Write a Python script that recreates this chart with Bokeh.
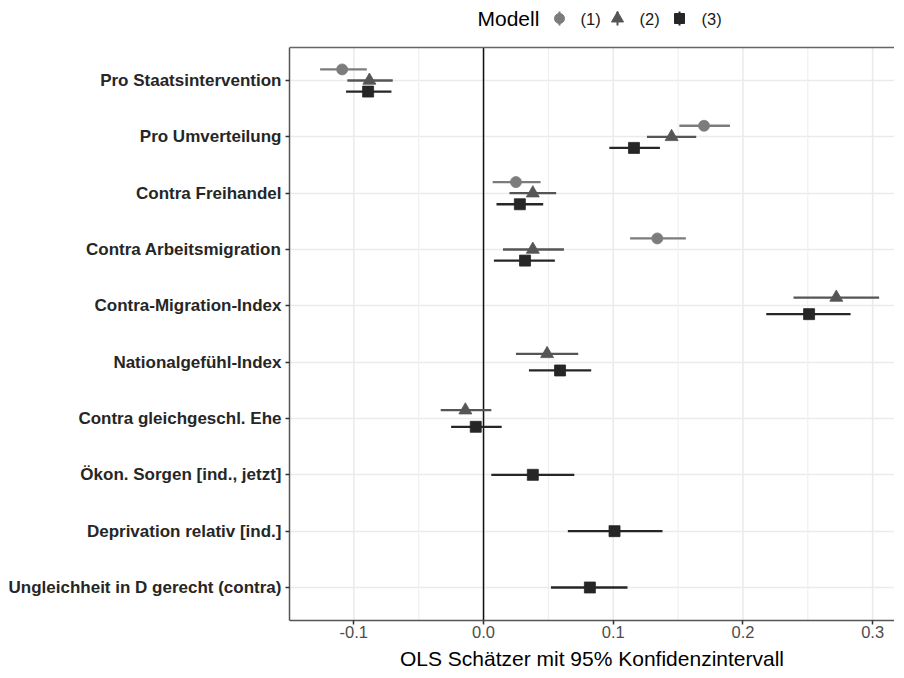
import math
from bokeh.plotting import figure
from bokeh.models import Range1d, FixedTicker, ColumnDataSource
from bokeh.embed import file_html
from bokeh.resources import INLINE
from bokeh.core.properties import value

nan = float("nan")

# ---------------- data ----------------
terms = [
    "Pro Staatsintervention",
    "Pro Umverteilung",
    "Contra Freihandel",
    "Contra Arbeitsmigration",
    "Contra-Migration-Index",
    "Nationalgefühl-Index",
    "Contra gleichgeschl. Ehe",
    "Ökon. Sorgen [ind., jetzt]",
    "Deprivation relativ [ind.]",
    "Ungleichheit in D gerecht (contra)",
]
models = ["(1)", "(2)", "(3)"]

est_m1 = [-0.109, 0.170, 0.025, 0.134, nan, nan, nan, nan, nan, nan]
lo_m1 = [-0.126, 0.151, 0.007, 0.113, nan, nan, nan, nan, nan, nan]
hi_m1 = [-0.090, 0.190, 0.044, 0.156, nan, nan, nan, nan, nan, nan]

est_m2 = [-0.088, 0.145, 0.038, 0.038, 0.272, 0.049, -0.014, nan, nan, nan]
lo_m2 = [-0.105, 0.126, 0.020, 0.015, 0.239, 0.025, -0.033, nan, nan, nan]
hi_m2 = [-0.070, 0.164, 0.056, 0.062, 0.305, 0.073, 0.006, nan, nan, nan]

est_m3 = [-0.089, 0.116, 0.028, 0.032, 0.251, 0.059, -0.006, 0.038, 0.101, 0.082]
lo_m3 = [-0.106, 0.097, 0.010, 0.008, 0.218, 0.035, -0.025, 0.006, 0.065, 0.052]
hi_m3 = [-0.071, 0.136, 0.046, 0.055, 0.283, 0.083, 0.014, 0.070, 0.138, 0.111]

x_ticks = [-0.1, 0.0, 0.1, 0.2, 0.3]
x_tick_labels = ["-0.1", "0.0", "0.1", "0.2", "0.3"]
x_minor = [-0.15, -0.05, 0.05, 0.15, 0.25]

x_title = "OLS Schätzer mit 95% Konfidenzintervall"
legend_title = "Modell"

# ---------------- layout / styles ----------------
FONT = "Liberation Sans"
colors = ["#7c7c7c", "#555555", "#262626"]
markers = ["circle", "triangle", "square"]
msizes = [11, 13, 11]
DODGE = 0.59

ORIGIN_X, ORIGIN_Y = 0, 0          # where the picture shows the figure's top-left corner
PANEL_LEFT_PX, PANEL_TOP_PX, PANEL_BOTTOM_PX = 289, 47, 620
PX_PER_X = 1297.0                  # pixels per x unit
ROW_PX = 56.33                     # pixels per row

BORDER_L = PANEL_LEFT_PX - ORIGIN_X
BORDER_B = 50
FRAME_W = 605
FRAME_H = PANEL_BOTTOM_PX - ORIGIN_Y

X_MIN = -0.1496
X_MAX = X_MIN + FRAME_W / PX_PER_X
PANEL_TOP, PANEL_BOTTOM = 0.414, 10.586        # panel limits in row units
Y_TOP = PANEL_TOP - (PANEL_TOP_PX - ORIGIN_Y) / ROW_PX   # legend band above the panel


def px_x(px):
    return X_MIN + (px - PANEL_LEFT_PX) / PX_PER_X


def px_y(py):
    return PANEL_TOP + (py - PANEL_TOP_PX) / ROW_PX


est_all = [est_m1, est_m2, est_m3]
lo_all = [lo_m1, lo_m2, lo_m3]
hi_all = [hi_m1, hi_m2, hi_m3]

p = figure(
    frame_width=FRAME_W, frame_height=FRAME_H,
    x_range=Range1d(X_MIN, X_MAX),
    y_range=Range1d(PANEL_BOTTOM, Y_TOP),
    toolbar_location=None, output_backend="svg",
    min_border_left=BORDER_L, min_border_right=0,
    min_border_top=0, min_border_bottom=BORDER_B,
    background_fill_color="white", border_fill_color="white",
)
p.outline_line_color = None

# horizontal grid (rows)
p.xgrid.visible = False
p.ygrid.ticker = FixedTicker(ticks=list(range(1, len(terms) + 1)))
p.ygrid.grid_line_color = "#EBEBEB"
p.ygrid.grid_line_width = 1.6

# vertical grid lines restricted to the panel
p.segment(x0=x_minor, x1=x_minor, y0=[PANEL_TOP] * len(x_minor), y1=[PANEL_BOTTOM] * len(x_minor),
          line_color="#F0F0F0", line_width=1.2)
p.segment(x0=x_ticks, x1=x_ticks, y0=[PANEL_TOP] * len(x_ticks), y1=[PANEL_BOTTOM] * len(x_ticks),
          line_color="#EBEBEB", line_width=1.6)

# zero line
p.segment(x0=[0], x1=[0], y0=[PANEL_TOP], y1=[PANEL_BOTTOM], line_color="#111111", line_width=1.5)
# top border of panel
p.segment(x0=[X_MIN], x1=[X_MAX], y0=[PANEL_TOP], y1=[PANEL_TOP], line_color="#666666", line_width=1.6)

for m in range(3):
    ys, xs, los, his = [], [], [], []
    for i in range(len(terms)):
        if math.isnan(est_all[m][i]):
            continue
        present = [k for k in range(3) if not math.isnan(est_all[k][i])]
        n = len(present)
        k = present.index(m)
        off = -DODGE / 2 + DODGE / n * (k + 0.5)
        ys.append(i + 1 + off)
        xs.append(est_all[m][i])
        los.append(lo_all[m][i])
        his.append(hi_all[m][i])
    src = ColumnDataSource(dict(y=ys, x=xs, lo=los, hi=his))
    p.segment(x0="lo", y0="y", x1="hi", y1="y", source=src,
              line_color=colors[m], line_width=2.3)
    p.scatter(x="x", y="y", source=src, marker=markers[m], size=msizes[m],
              fill_color=colors[m], line_color=colors[m], line_width=0.8)

# x axis
xa = p.xaxis[0]
xa.ticker = FixedTicker(ticks=x_ticks)
xa.major_label_overrides = {t: l for t, l in zip(x_ticks, x_tick_labels)}
xa.major_label_text_font = FONT
xa.major_label_text_font_size = "16.5px"
xa.major_label_text_color = "#4D4D4D"
xa.major_label_standoff = 1
xa.major_tick_in = 0
xa.major_tick_out = 4
xa.major_tick_line_color = "#333333"
xa.major_tick_line_width = 1.5
xa.minor_tick_line_color = None
xa.axis_line_color = "#555555"
xa.axis_line_width = 1.5
xa.axis_label = x_title
xa.axis_label_text_font = FONT
xa.axis_label_text_font_size = "21px"
xa.axis_label_text_font_style = "normal"
xa.axis_label_text_color = "#000000"
xa.axis_label_standoff = 6

# y axis
ya = p.yaxis[0]
ya.bounds = (PANEL_TOP, PANEL_BOTTOM)
ya.ticker = FixedTicker(ticks=list(range(1, len(terms) + 1)))
ya.major_label_overrides = {i + 1: t for i, t in enumerate(terms)}
ya.major_label_text_font = FONT
ya.major_label_text_font_size = "17px"
ya.major_label_text_font_style = "bold"
ya.major_label_text_color = "#262626"
ya.major_label_standoff = 4
ya.major_tick_in = 0
ya.major_tick_out = 4
ya.major_tick_line_color = "#333333"
ya.major_tick_line_width = 1.5
ya.minor_tick_line_color = None
ya.axis_line_color = "#555555"
ya.axis_line_width = 1.5

# ---------------- legend band (page pixel positions) ----------------
LEG_PY = 18
title_px = 477
key_px = [559, 617, 679]
label_px = [580, 639, 701]

p.text(x=[px_x(title_px)], y=[px_y(LEG_PY)], text=[legend_title],
       text_font=value(FONT), text_font_size="21px",
       text_baseline="middle", text_align="left", text_color="#000000")
for m in range(3):
    p.segment(x0=[px_x(key_px[m])], y0=[px_y(LEG_PY - 7)], x1=[px_x(key_px[m])], y1=[px_y(LEG_PY + 7)],
              line_color=colors[m], line_width=2)
    p.scatter(x=[px_x(key_px[m])], y=[px_y(LEG_PY)], marker=markers[m], size=msizes[m] - 1,
              fill_color=colors[m], line_color=colors[m])
    p.text(x=[px_x(label_px[m])], y=[px_y(LEG_PY)], text=[models[m]],
           text_font=value(FONT), text_font_size="16.5px",
           text_baseline="middle", text_align="left", text_color="#1a1a1a")

open("out.html", "w").write(file_html(p, INLINE))
